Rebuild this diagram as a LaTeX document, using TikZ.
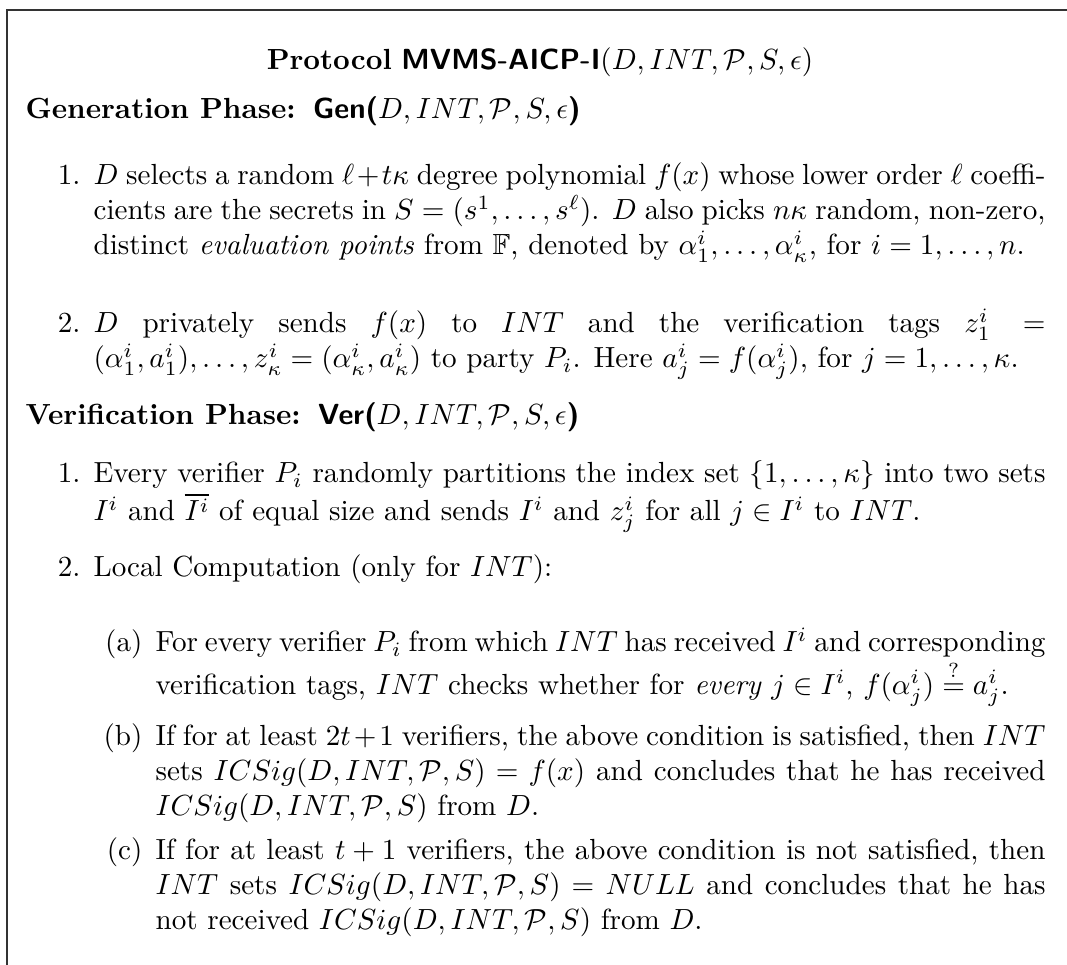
\documentclass[tikz,border=0pt]{standalone}
\usepackage{amsmath}
\usepackage{amssymb}
\usetikzlibrary{positioning}

\begin{document}
\begin{tikzpicture}[x=0.3435pt, y=-0.3435pt]

        % Setup the styles for the text blocks
        \tikzset{item text/.style={anchor=base west,
                                   inner sep=0pt,
                                   text width=327pt,
                                   align=justify},
                 sub text/.style={item text, text width=305.7pt},
                 item label/.style={inner sep=0pt},
                 phase title/.style={anchor=base west,
                                     inner sep=0pt}}

        \useasboundingbox (0,0) rectangle (1067,965);

        % Draw the frame
        \coordinate (frame ne) at (1067,10);
        \coordinate (frame nw) at (7,10);
        \coordinate (frame sw) at (7,965);
        \draw[line width=0.5pt, black!80] (frame ne) -- (frame nw) -- (frame sw);

        % Title and phases
        \node[anchor=base, inner sep=0pt] at (540, 70) (title)
            {\textbf{Protocol} \textsf{\textbf{MVMS-AICP-I}}$(D, INT, \mathcal{P}, S, \epsilon)$};
        \node[phase title] at (25, 119) (gen)
            {\textbf{Generation Phase:}\hspace{6pt}\textsf{\textbf{Gen(}}$D, INT, \mathcal{P}, S, \epsilon$\textsf{\textbf{)}}};
        \node[phase title] at (25, 425) (ver)
            {\textbf{Verification Phase:}\hspace{6pt}\textsf{\textbf{Ver(}}$D, INT, \mathcal{P}, S, \epsilon$\textsf{\textbf{)}}};

        % Generation steps
        \node[item text] at (93, 185) (gen1)
            {$D$ selects a random $\ell + t\kappa$ degree polynomial $f(x)$ whose lower order $\ell$ coeffi-\linebreak cients are the secrets in $S = (s^1, \ldots, s^\ell)$. $D$ also picks $n\kappa$ random, non-zero,\linebreak distinct \emph{evaluation points} from $\mathbb{F}$, denoted by $\alpha^i_1, \ldots, \alpha^i_\kappa$, for $i = 1, \ldots, n$.};
        \node[item text] at (93, 333) (gen2)
            {$D$ privately sends $f(x)$ to $INT$ and the verification tags $z^i_1 = (\alpha^i_1, a^i_1), \ldots, z^i_\kappa = (\alpha^i_\kappa, a^i_\kappa)$ to party $P_i$. Here $a^i_j = f(\alpha^i_j)$, for $j = 1, \ldots, \kappa$.};

        % Verification steps
        \node[item text] at (93, 483) (ver1)
            {Every verifier $P_i$ randomly partitions the index set $\{1, \ldots, \kappa\}$ into two sets $I^i$ and $\overline{I^i}$ of equal size and sends $I^i$ and $z^i_j$ for all $j \in I^i$ to $INT$.};
        \node[item text] at (93, 577) (ver2)
            {Local Computation (only for $INT$):};
        \node[sub text] at (155, 652) (vera)
            {For every verifier $P_i$ from which $INT$ has received $I^i$ and corresponding verification tags, $INT$ checks whether for \emph{every} $j \in I^i$, $f(\alpha^i_j) \stackrel{?}{=} a^i_j$.};
        \node[sub text] at (155, 746) (verb)
            {If for at least $2t+1$ verifiers, the above condition is satisfied, then $INT$ sets $ICSig(D, INT, \mathcal{P}, S) = f(x)$ and concludes that he has received $ICSig(D, INT, \mathcal{P}, S)$ from $D$.};
        \node[sub text] at (155, 860) (verc)
            {If for at least $t+1$ verifiers, the above condition is not satisfied, then $INT$ sets $ICSig(D, INT, \mathcal{P}, S) = NULL$ and concludes that he has not received $ICSig(D, INT, \mathcal{P}, S)$ from $D$.};

        % Labels
        \node[item label, left=12 of gen1.base west, anchor=base east] (gen1 num) {1.};
        \node[item label, left=12 of gen2.base west, anchor=base east] (gen2 num) {2.};
        \node[item label, left=12 of ver1.base west, anchor=base east] (ver1 num) {1.};
        \node[item label, left=12 of ver2.base west, anchor=base east] (ver2 num) {2.};
        \node[item label, left=12 of vera.base west, anchor=base east] (vera lbl) {(a)};
        \node[item label, left=12 of verb.base west, anchor=base east] (verb lbl) {(b)};
        \node[item label, left=12 of verc.base west, anchor=base east] (verc lbl) {(c)};

    \end{tikzpicture}
\end{document}
